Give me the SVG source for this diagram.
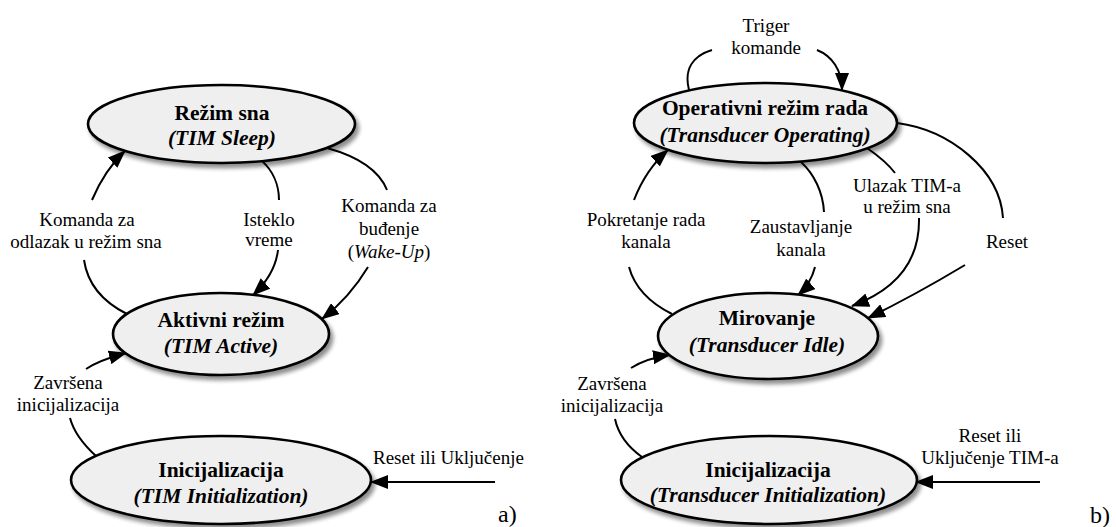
<svg xmlns="http://www.w3.org/2000/svg" width="1116" height="527" viewBox="0 0 1116 527">
<style>
.node ellipse{fill:#efefef;stroke:#000;stroke-width:2.6;filter:url(#sh)}
.nt{font-family:"Liberation Serif","Times New Roman",serif;font-size:21.5px;font-weight:bold;text-anchor:middle;fill:#000}
.ni{font-style:italic}
.lb{font-family:"Liberation Serif","Times New Roman",serif;font-size:19px;text-anchor:middle;fill:#000}
.tag{font-family:"Liberation Serif","Times New Roman",serif;font-size:24px;fill:#000}
.conn path{fill:none;stroke:#000;stroke-width:2;marker-end:url(#ah)}
</style>
<defs>
<filter id="sh" x="-10%" y="-20%" width="125%" height="150%">
<feGaussianBlur in="SourceAlpha" stdDeviation="2"/>
<feOffset dx="3" dy="4" result="b"/>
<feComponentTransfer><feFuncA type="linear" slope="0.45"/></feComponentTransfer>
<feMerge><feMergeNode/><feMergeNode in="SourceGraphic"/></feMerge>
</filter>
<marker id="ah" viewBox="0 0 18 14" refX="17" refY="7" markerWidth="18" markerHeight="14" markerUnits="userSpaceOnUse" orient="auto">
<path d="M0,0 L18,7 L0,14 z" fill="#000"/>
</marker>
</defs>
<rect width="1116" height="527" fill="#fff"/>

<g class="conn" id="connectors">
<path d="M127,314 C105,303 88,287 84,260 M92,200 C100,181 110,165 125,151"/>
<path d="M262,161 C272,170 279,184 279,200 M278,250 C276,267 267,282 253,295"/>
<path d="M327,148 C356,156 379,170 387,190 M368,267 C356,287 340,305 322,319"/>
<path d="M96,456 C85,446 74,433 70,418 M86,369 C98,361 111,357 126,353"/>
<path d="M495,482 L371,482"/>
<path d="M689,90 C684,70 692,56 712,50 M817,50 C832,56 842,70 842,90"/>
<path d="M672,314 C652,304 635,289 629,267 M634,200 C641,182 652,164 668,150"/>
<path d="M801,162 C814,174 823,192 824,212 M815,267 C812,279 806,288 798,295"/>
<path d="M867,148 C880,157 889,165 895,173 M919,218 C920,262 895,290 852,306"/>
<path d="M897,123 C950,130 1000,170 1003,218 M965,265 C935,283 905,300 868,318"/>
<path d="M642,457 C628,447 618,433 615,419 M631,368 C642,361 655,357 670,355"/>
<path d="M1040,482 L916,482"/>
</g>

<g id="labels">
<text class="lb" x="87" y="226">Komanda za</text>
<text class="lb" x="86" y="248">odlazak u režim sna</text>
<text class="lb" x="269" y="226">Isteklo</text>
<text class="lb" x="269" y="246">vreme</text>
<text class="lb" x="389" y="212">Komanda za</text>
<text class="lb" x="389" y="235">buđenje</text>
<text class="lb" x="389" y="258">(<tspan font-style="italic">Wake-Up</tspan>)</text>
<text class="lb" x="68" y="389">Završena</text>
<text class="lb" x="68" y="411">inicijalizacija</text>
<text class="lb" x="373" y="464" style="text-anchor:start">Reset ili Uključenje</text>
<text class="tag" x="498" y="522">a)</text>
<text class="lb" x="766" y="32">Triger</text>
<text class="lb" x="766" y="54">komande</text>
<text class="lb" x="646" y="226">Pokretanje rada</text>
<text class="lb" x="646" y="248">kanala</text>
<text class="lb" x="801" y="233">Zaustavljanje</text>
<text class="lb" x="801" y="256">kanala</text>
<text class="lb" x="907" y="192">Ulazak TIM-a</text>
<text class="lb" x="907" y="213">u režim sna</text>
<text class="lb" x="1007" y="248">Reset</text>
<text class="lb" x="612" y="390">Završena</text>
<text class="lb" x="612" y="412">inicijalizacija</text>
<text class="lb" x="990" y="442">Reset ili</text>
<text class="lb" x="990" y="464">Uključenje TIM-a</text>
<text class="tag" x="1090" y="523">b)</text>
</g>

<g class="node" id="n-sleep">
<ellipse cx="221.5" cy="124" rx="133.5" ry="39"/>
<text class="nt" x="222" y="120">Režim sna</text>
<text class="nt ni" x="222" y="145">(TIM Sleep)</text>
</g>
<g class="node" id="n-active">
<ellipse cx="221" cy="334" rx="108" ry="41"/>
<text class="nt" x="221" y="327">Aktivni režim</text>
<text class="nt ni" x="221" y="353">(TIM Active)</text>
</g>
<g class="node" id="n-init-a">
<ellipse cx="221" cy="480" rx="150" ry="44"/>
<text class="nt" x="221" y="477">Inicijalizacija</text>
<text class="nt ni" x="221" y="503">(TIM Initialization)</text>
</g>
<g class="node" id="n-oper">
<ellipse cx="765.5" cy="123" rx="131.5" ry="40"/>
<text class="nt" x="765" y="115">Operativni režim rada</text>
<text class="nt ni" x="765" y="142">(Transducer Operating)</text>
</g>
<g class="node" id="n-idle">
<ellipse cx="768" cy="336" rx="110" ry="43"/>
<text class="nt" x="767" y="325">Mirovanje</text>
<text class="nt ni" x="767" y="352">(Transducer Idle)</text>
</g>
<g class="node" id="n-init-b">
<ellipse cx="769" cy="480" rx="148" ry="44"/>
<text class="nt" x="768" y="477">Inicijalizacija</text>
<text class="nt ni" x="768" y="502">(Transducer Initialization)</text>
</g>
</svg>
